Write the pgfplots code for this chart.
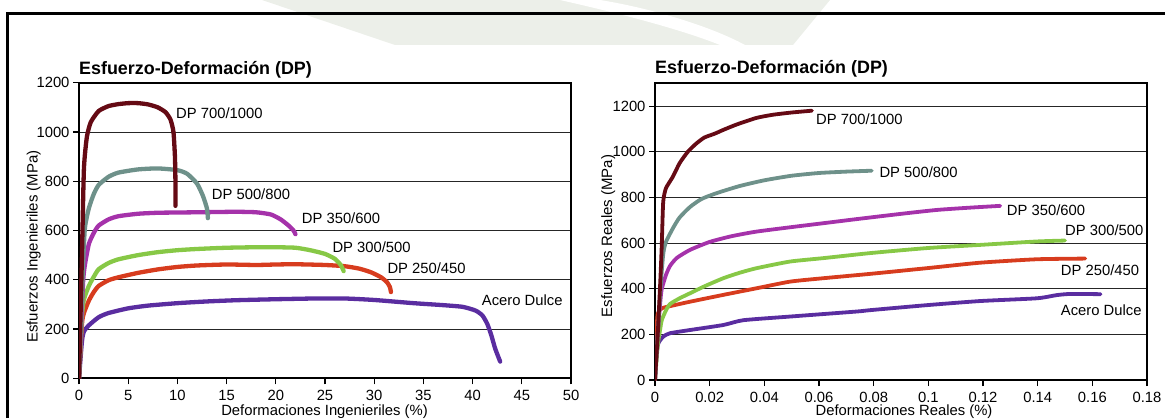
\documentclass[border=0pt]{standalone}
\usepackage{pgfplots}
\pgfplotsset{compat=1.18}
\usepackage{fontspec}
\setmainfont{Liberation Sans}
\definecolor{cMaroon}{HTML}{650A14}
\definecolor{cTeal}{HTML}{6E918A}
\definecolor{cMag}{HTML}{A532AA}
\definecolor{cGreen}{HTML}{87C846}
\definecolor{cRed}{HTML}{D73C1E}
\definecolor{cPurp}{HTML}{5A2DA0}
\definecolor{wm}{RGB}{236,239,233}
\newcommand{\lbl}{\fontsize{14.8}{17}\selectfont}
\pgfplotsset{myaxis/.style={
  scale only axis, width=492pt,
  axis line style={line width=1.7pt},
  tick align=outside, xtick pos=bottom, ytick pos=left,
  major tick length=6pt, tick style={line width=1.1pt, black},
  ymajorgrids, grid style={line width=0.9pt, black!85},
  ticklabel style={font=\lbl},
  xticklabel style={yshift=-2.5pt},
  /pgf/number format/assume math mode=true,
  /pgf/number format/1000 sep={},
  scaled ticks=false,
  every axis plot/.append style={line width=4.3pt, line join=round, line cap=round, no marks, smooth, tension=0.35},
}}
\begin{document}
\begin{tikzpicture}[x=1pt,y=1pt]
\useasboundingbox (0,0) rectangle (1165,418);
\clip (0,0) rectangle (1165,418);
% faint watermark
\fill[wm] (262,418) -- (830,418) -- (793,373) -- (395,373) -- cycle;
\fill[white] (560,418) .. controls (640,400) and (690,385) .. (720,373) -- (745,373) .. controls (710,392) and (650,410) .. (600,418) -- cycle;
% outer frame
\draw[line width=3pt] (7.5,0) -- (7.5,404) -- (1165,404);

% ---------------- left chart ----------------
\begin{axis}[myaxis, at={(79pt,39.7pt)}, anchor=south west, height=295.6pt,
  xmin=0, xmax=50, ymin=0, ymax=1200,
  xtick={0,5,10,15,20,25,30,35,40,45,50}, ytick={0,200,400,600,800,1000,1200}]
\addplot[cPurp] coordinates {(0,0)(0.3,150)(0.5,190)(1,215)(2,248)(3,265)(5,284)(7,295)(10,305)(13,312)(16,317)(20,321)(24,324)(27,324)(30,318)(34,305)(37,297)(39,290)(40.3,275)(41,255)(41.5,220)(41.9,175)(42.3,120)(42.8,68)};
\addplot[cRed] coordinates {(0,0)(0.3,220)(0.5,265)(1,315)(1.5,350)(2,375)(3,398)(4,410)(6,428)(8,442)(10,452)(12,458)(15,462)(18,460)(20,462)(22,463)(25,460)(27,455)(28.5,445)(29.7,430)(30.7,410)(31.3,390)(31.6,370)(31.7,350)};
\addplot[cGreen] coordinates {(0,0)(0.3,250)(0.5,320)(1,375)(1.5,412)(2,443)(3,468)(4,483)(6,500)(8,512)(10,520)(12,525)(15,530)(18,532)(20,532)(22,530)(23.5,520)(25,505)(26,485)(26.6,460)(26.9,435)};
\addplot[cMag] coordinates {(0,0)(0.4,380)(0.6,460)(1,545)(1.5,590)(2,620)(3,645)(4,658)(6,668)(8,672)(10,673)(12,674)(14,675)(16,676)(18,674)(19.5,665)(20.5,645)(21.3,620)(21.8,600)(22,585)};
\addplot[cTeal] coordinates {(0,0)(0.4,450)(0.6,610)(1,690)(1.5,748)(2,785)(3,818)(4,835)(6,848)(8,852)(10,845)(11,830)(12,790)(12.6,740)(13,690)(13.1,650)};
\addplot[cMaroon] coordinates {(0,0)(0.3,500)(0.5,850)(0.8,980)(1.2,1040)(2,1085)(3,1105)(4,1113)(5,1117)(6,1117)(7,1112)(8,1100)(8.8,1080)(9.3,1050)(9.6,1000)(9.75,900)(9.8,800)(9.8,700)};
\end{axis}

% ---------------- right chart ----------------
\begin{axis}[myaxis, at={(655pt,38pt)}, anchor=south west, height=296.7pt,
  xmin=0, xmax=0.18, ymin=0, ymax=1300,
  xtick={0,0.02,0.04,0.06,0.08,0.1,0.12,0.14,0.16,0.18},
  xticklabels={0,0.02,0.04,0.06,0.08,0.1,0.12,0.14,0.16,0.18},
  ytick={0,200,400,600,800,1000,1200},
  every axis plot/.append style={line width=3.8pt}]
\addplot[cPurp] coordinates {(0,0)(0.0005,100)(0.0012,160)(0.003,190)(0.0055,205)(0.0128,219)(0.025,241)(0.0323,262)(0.0494,278)(0.0738,300)(0.0787,306)(0.0995,328)(0.119,346)(0.1397,358)(0.147,372)(0.152,377)(0.163,376)};
\addplot[cRed] coordinates {(0,0)(0.0005,200)(0.001,290)(0.0025,314)(0.006,325)(0.0128,343)(0.025,373)(0.0372,402)(0.0494,431)(0.0616,446)(0.0787,465)(0.0995,490)(0.119,514)(0.1397,529)(0.1574,532)};
\addplot[cGreen] coordinates {(0,0)(0.001,150)(0.002,230)(0.0025,263)(0.004,305)(0.0055,333)(0.009,358)(0.0128,380)(0.018,410)(0.025,446)(0.031,470)(0.0372,490)(0.0494,519)(0.0616,534)(0.0787,556)(0.0995,578)(0.119,592)(0.1397,607)(0.150,611)};
\addplot[cMag] coordinates {(0,0)(0.001,200)(0.002,350)(0.0025,400)(0.004,460)(0.0055,500)(0.008,535)(0.0128,570)(0.02,605)(0.028,630)(0.037,650)(0.05,670)(0.0616,687)(0.0738,705)(0.09,728)(0.103,745)(0.115,755)(0.1263,763)};
\addplot[cTeal] coordinates {(0,0)(0.001,200)(0.002,400)(0.003,550)(0.004,605)(0.0067,668)(0.009,712)(0.0128,758)(0.017,793)(0.0226,819)(0.031,850)(0.04,875)(0.05,895)(0.06,907)(0.07,913)(0.0793,917)};
\addplot[cMaroon] coordinates {(0,0)(0.001,200)(0.002,450)(0.0025,600)(0.003,780)(0.004,840)(0.0065,890)(0.009,950)(0.012,1000)(0.015,1035)(0.018,1062)(0.022,1080)(0.025,1096)(0.03,1120)(0.037,1148)(0.043,1162)(0.05,1172)(0.0574,1180)};
\end{axis}

% titles
\node[anchor=base west, inner sep=0, font=\fontsize{17.9}{20}\selectfont\bfseries] at (79,343.7) {Esfuerzo-Deformación (DP)};
\node[anchor=base west, inner sep=0, font=\fontsize{17.9}{20}\selectfont\bfseries] at (655,344.7) {Esfuerzo-Deformación (DP)};
% axis labels
\node[rotate=90, anchor=base, inner sep=0, font=\fontsize{15}{17}\selectfont] at (37.5,171.5) {Esfuerzos Ingenieriles (MPa)};
\node[rotate=90, anchor=base, inner sep=0, font=\fontsize{15}{17}\selectfont] at (612,182) {Esfuerzos Reales (MPa)};
\node[anchor=base, inner sep=0, font=\lbl] at (324.5,3) {Deformaciones Ingenieriles (\%)};
\node[anchor=base, inner sep=0, font=\lbl] at (904,3) {Deformaciones Reales (\%)};
% curve labels
\begin{scope}[every node/.style={anchor=base west, inner sep=0, font=\lbl}]
\node at (176,299) {DP 700/1000};
\node at (211.7,218.7) {DP 500/800};
\node at (301.7,194.7) {DP 350/600};
\node at (332.3,165.7) {DP 300/500};
\node at (387.3,144.3) {DP 250/450};
\node at (481.7,112.3) {Acero Dulce};
\node at (816,293) {DP 700/1000};
\node at (879.3,240.3) {DP 500/800};
\node at (1006.7,202) {DP 350/600};
\node at (1065,182) {DP 300/500};
\node at (1060.7,142.3) {DP 250/450};
\node at (1060.7,102) {Acero Dulce};
\end{scope}
\end{tikzpicture}
\end{document}
